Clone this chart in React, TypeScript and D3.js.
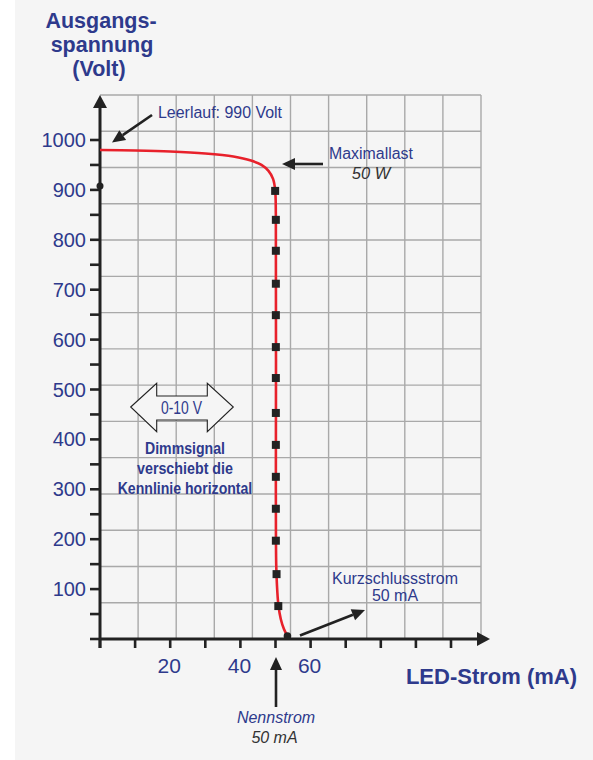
import React, { useEffect, useRef } from 'react';
import * as d3 from 'd3';

// Kennlinie (LED-Strom in mA, Ausgangsspannung in V)
const curveCurrent = [0, 10, 20, 30, 38, 43, 46, 48, 49.3, 49.9, 50.1, 50.1, 50.2, 50.4, 50.8, 51.5, 52.4, 53.4];
const curveVolt = [980, 979, 977, 973, 967, 959, 950, 938, 922, 900, 850, 300, 150, 110, 70, 40, 20, 6];

// Messpunkte (Quadrate) auf der Kennlinie
const markerCurrent = [49.9, 50.1, 50.1, 50.1, 50.1, 50.1, 50.1, 50.1, 50.1, 50.1, 50.1, 50.1, 50.3, 50.8];
const markerVolt = [898, 840, 778, 712, 649, 585, 523, 453, 389, 325, 261, 197, 130, 66];

const yTickValues = [100, 200, 300, 400, 500, 600, 700, 800, 900, 1000];
const xTickLabels = [20, 40, 60];

const BLUE = '#2e3a8c';
const FONT = '"Liberation Sans", Arial, sans-serif';

export default function App() {
  const svgRef = useRef<SVGSVGElement>(null);

  useEffect(() => {
    if (!svgRef.current) return;
    const width = 593;
    const height = 760;

    const svg = d3.select(svgRef.current);
    svg.selectAll('*').remove();
    svg.attr('width', width).attr('height', height);

    svg.append('rect')
      .attr('x', 15).attr('y', 0)
      .attr('width', width - 15).attr('height', height)
      .attr('fill', '#f5f5f5');

    const x = d3.scaleLinear().domain([0, 100]).range([100, 451]);
    const y = d3.scaleLinear().domain([0, 1000]).range([639, 140]);

    // decorative grid (10 columns, 15 rows)
    const gx = d3.scaleLinear().domain([0, 10]).range([100, 481]);
    const gy = d3.scaleLinear().domain([0, 15]).range([639, 95]);
    const grid = svg.append('g').attr('stroke', '#a9a9a9').attr('stroke-width', 1.4);
    d3.range(1, 11).forEach(i => {
      grid.append('line')
        .attr('x1', gx(i)).attr('x2', gx(i))
        .attr('y1', gy(0)).attr('y2', gy(15));
    });
    d3.range(1, 16).forEach(i => {
      grid.append('line')
        .attr('x1', gx(0)).attr('x2', gx(10))
        .attr('y1', gy(i)).attr('y2', gy(i));
    });

    const ink = '#222';

    // axes
    svg.append('line')
      .attr('x1', x(0)).attr('x2', 480)
      .attr('y1', y(0)).attr('y2', y(0))
      .attr('stroke', ink).attr('stroke-width', 3);
    svg.append('path')
      .attr('d', `M490,${y(0)} L477,${y(0) - 7} L477,${y(0) + 7} Z`)
      .attr('fill', ink);
    svg.append('line')
      .attr('x1', x(0)).attr('x2', x(0))
      .attr('y1', 648).attr('y2', 105)
      .attr('stroke', ink).attr('stroke-width', 3);
    svg.append('path')
      .attr('d', `M${x(0)},95 L${x(0) - 7},108 L${x(0) + 7},108 Z`)
      .attr('fill', ink);

    // y ticks every 50 V
    d3.range(0, 1001, 50).forEach(v => {
      svg.append('line')
        .attr('x1', 90).attr('x2', x(0))
        .attr('y1', y(v)).attr('y2', y(v))
        .attr('stroke', ink).attr('stroke-width', 2.6);
    });
    yTickValues.forEach(v => {
      svg.append('text')
        .attr('x', 86).attr('y', y(v) + 7)
        .attr('text-anchor', 'end')
        .attr('font-family', FONT).attr('font-size', 20)
        .attr('fill', BLUE)
        .text(v);
    });

    // x ticks every 10 mA
    d3.range(0, 101, 10).forEach(c => {
      svg.append('line')
        .attr('x1', x(c)).attr('x2', x(c))
        .attr('y1', y(0)).attr('y2', 648)
        .attr('stroke', ink).attr('stroke-width', 2.6);
    });
    xTickLabels.forEach(c => {
      svg.append('text')
        .attr('x', x(c) - 1).attr('y', 673)
        .attr('text-anchor', 'middle')
        .attr('font-family', FONT).attr('font-size', 21)
        .attr('fill', BLUE)
        .text(c);
    });

    // characteristic curve
    const pts = curveCurrent.map((c, i) => [c, curveVolt[i]] as [number, number]);
    const line = d3.line<[number, number]>()
      .x(d => x(d[0]))
      .y(d => y(d[1]))
      .curve(d3.curveCatmullRom.alpha(0.5));
    svg.append('path')
      .attr('d', line(pts))
      .attr('fill', 'none')
      .attr('stroke', '#e8212b')
      .attr('stroke-width', 2.6);

    markerCurrent.forEach((c, i) => {
      svg.append('rect')
        .attr('x', x(c) - 4).attr('y', y(markerVolt[i]) - 4)
        .attr('width', 8).attr('height', 8)
        .attr('fill', ink);
    });

    // dots
    svg.append('circle').attr('cx', x(0)).attr('cy', y(908)).attr('r', 3.5).attr('fill', ink);
    const last = pts[pts.length - 1];
    svg.append('circle').attr('cx', x(last[0])).attr('cy', y(last[1])).attr('r', 3.8).attr('fill', ink);

    // arrows with filled heads
    const arrow = (x1: number, y1: number, x2: number, y2: number, len = 13, half = 6) => {
      const a = Math.atan2(y2 - y1, x2 - x1);
      const bx = x2 - len * Math.cos(a);
      const by = y2 - len * Math.sin(a);
      svg.append('line')
        .attr('x1', x1).attr('y1', y1).attr('x2', bx).attr('y2', by)
        .attr('stroke', ink).attr('stroke-width', 2.6);
      const px = -Math.sin(a) * half;
      const py = Math.cos(a) * half;
      svg.append('path')
        .attr('d', `M${x2},${y2} L${bx + px},${by + py} L${bx - px},${by - py} Z`)
        .attr('fill', ink);
    };

    arrow(152, 115, 112, 142.5);
    arrow(323, 164, 282, 164);
    arrow(300, 635.5, 365, 610);
    arrow(276, 707, 276, 657);

    const text = (
      t: string, tx: number, ty: number, size: number,
      opts: { anchor?: string; weight?: string; style?: string; fill?: string; len?: number } = {}
    ) => {
      const el = svg.append('text')
        .attr('x', tx).attr('y', ty)
        .attr('text-anchor', opts.anchor || 'start')
        .attr('font-family', FONT)
        .attr('font-size', size)
        .attr('font-weight', opts.weight || 'normal')
        .attr('font-style', opts.style || 'normal')
        .attr('fill', opts.fill || BLUE)
        .text(t);
      if (opts.len) el.attr('textLength', opts.len).attr('lengthAdjust', 'spacingAndGlyphs');
    };

    // title
    text('Ausgangs-', 101, 28, 21.5, { anchor: 'middle', weight: 'bold' });
    text('spannung', 102, 52, 21.5, { anchor: 'middle', weight: 'bold' });
    text('(Volt)', 99, 76, 21.5, { anchor: 'middle', weight: 'bold' });

    text('Leerlauf: 990 Volt', 158, 117.5, 16, { len: 124 });
    text('Maximallast', 329, 159, 16, { len: 84 });
    text('50 W', 371, 179, 16.5, { anchor: 'middle', style: 'italic', fill: '#333' });
    text('Kurzschlussstrom', 332, 584, 16, { len: 126 });
    text('50 mA', 395, 600.5, 16, { anchor: 'middle' });
    text('Nennstrom', 276, 723, 16, { anchor: 'middle', style: 'italic' });
    text('50 mA', 274.5, 743, 16, { anchor: 'middle', style: 'italic', fill: '#333' });
    text('LED-Strom (mA)', 577, 684, 22, { anchor: 'end', weight: 'bold' });

    // 0-10 V double arrow
    svg.append('path')
      .attr('d', 'M130.7,407 L156.7,383.3 L156.7,396 L207.3,396 L207.3,383.3 L233.3,407 L207.3,431.7 L207.3,420 L156.7,420 L156.7,431.7 Z')
      .attr('fill', '#f5f5f5')
      .attr('stroke', ink)
      .attr('stroke-width', 1.1);
    text('0-10 V', 181.5, 413.5, 17.5, { anchor: 'middle', len: 41 });

    // condensed bold note
    text('Dimmsignal', 185, 453.5, 17, { anchor: 'middle', weight: 'bold', len: 80 });
    text('verschiebt die', 185, 473.5, 17, { anchor: 'middle', weight: 'bold', len: 96 });
    text('Kennlinie horizontal', 185, 494, 17, { anchor: 'middle', weight: 'bold', len: 134.6 });
  }, []);

  return (
    <svg ref={svgRef} style={{ position: 'absolute', left: 0, top: 0, display: 'block' }}></svg>
  );
}
